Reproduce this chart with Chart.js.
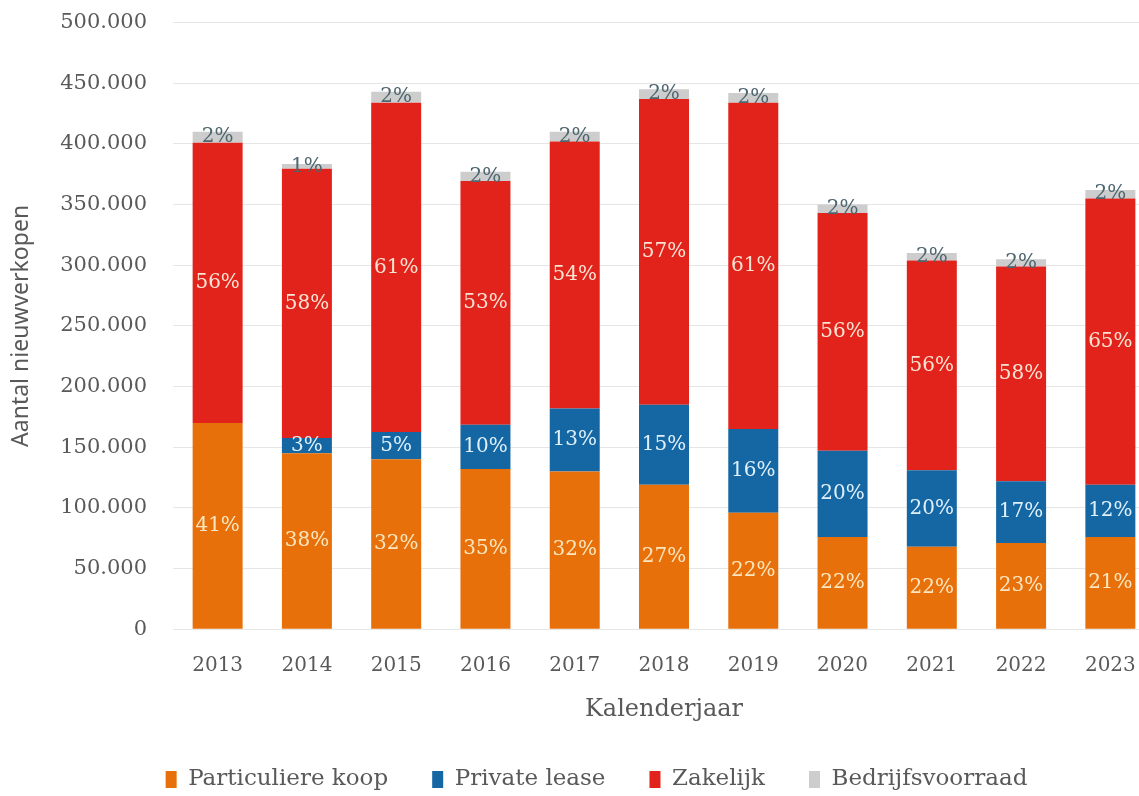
<!DOCTYPE html>
<html>
<head>
<meta charset="utf-8">
<script src="https://cdn.jsdelivr.net/npm/chart.js@4.4.1/dist/chart.umd.min.js"></script>
<style>
  html, body { margin: 0; padding: 0; background: #fff; overflow: hidden; }
  #wrap { width: 1160px; height: 796px; }
</style>
</head>
<body>
<div id="wrap"><canvas id="chart" width="1160" height="796"></canvas></div>
<script>
// nieuwverkopen per kalenderjaar, per segment
const jaren = ['2013', '2014', '2015', '2016', '2017', '2018', '2019', '2020', '2021', '2022', '2023'];
const particuliereKoop = [170000, 145000, 140000, 132000, 130000, 119000, 96000, 76000, 68000, 71000, 76000];
const privateLease = [0, 12500, 22500, 36500, 52000, 66000, 69000, 71000, 63000, 51000, 43000];
const zakelijk = [231000, 222000, 271500, 201000, 220000, 252000, 269000, 196000, 173000, 177000, 236000];
const bedrijfsvoorraad = [9000, 4000, 9000, 7500, 8000, 8000, 8000, 7000, 6000, 6000, 7000];

const yMax = 500000;
const yStep = 50000;

const kleuren = {
  koop: '#e8700a',
  lease: '#1467a3',
  zakelijk: '#e1231b',
  voorraad: '#cdcdcd',
};
const labelkleuren = ['#fbe6bf', '#dff0fb', '#fbe3d3', '#4d6670'];

const textcolor = '#595959';
const serif = '"DejaVu Serif", "Liberation Serif", serif';
const sans = '"Noto Sans", "Open Sans", sans-serif';

const totalen = jaren.map((_, i) =>
  particuliereKoop[i] + privateLease[i] + zakelijk[i] + bedrijfsvoorraad[i]);

// punt als duizendtalscheiding
const formatNL = v => String(v).replace(/\B(?=(\d{3})+(?!\d))/g, '.');

// percentage in het midden van elk segment
const segmentLabels = {
  id: 'segmentLabels',
  afterDatasetsDraw(chart) {
    const ctx = chart.ctx;
    ctx.save();
    ctx.font = `20px ${serif}`;
    ctx.textAlign = 'center';
    ctx.textBaseline = 'middle';
    chart.data.datasets.forEach((ds, i) => {
      const meta = chart.getDatasetMeta(i);
      meta.data.forEach((bar, j) => {
        const v = ds.data[j];
        if (!v) return;
        const pct = Math.round(v / totalen[j] * 100);
        ctx.fillStyle = labelkleuren[i];
        ctx.fillText(pct + '%', bar.x, (bar.y + bar.base) / 2);
      });
    });
    ctx.restore();
  },
};

// legenda iets naar rechts, zoals in het origineel
const legendShift = {
  id: 'legendShift',
  afterLayout(chart) {
    chart.legend.left += 15;
    chart.legend.right += 15;
  },
};

new Chart(document.getElementById('chart'), {
  type: 'bar',
  data: {
    labels: jaren,
    datasets: [
      { label: 'Particuliere koop', data: particuliereKoop, backgroundColor: kleuren.koop },
      { label: 'Private lease', data: privateLease, backgroundColor: kleuren.lease },
      { label: 'Zakelijk', data: zakelijk, backgroundColor: kleuren.zakelijk },
      { label: 'Bedrijfsvoorraad', data: bedrijfsvoorraad, backgroundColor: kleuren.voorraad },
    ],
  },
  options: {
    responsive: false,
    animation: false,
    barPercentage: 0.56,
    categoryPercentage: 1,
    layout: {
      padding: { top: 0, right: 5, bottom: -5, left: 8 },
    },
    scales: {
      x: {
        stacked: true,
        grid: { display: false },
        border: { display: false },
        ticks: {
          color: textcolor,
          font: { family: serif, size: 20 },
          padding: 17,
        },
        title: {
          display: true,
          text: 'Kalenderjaar',
          color: textcolor,
          font: { family: serif, size: 24 },
          padding: { top: 0, bottom: 0 },
        },
      },
      y: {
        stacked: true,
        min: 0,
        max: yMax,
        border: { display: false },
        grid: {
          color: '#e6e6e6',
          drawTicks: true,
          tickLength: 16,
          tickColor: 'rgba(0,0,0,0)',
        },
        ticks: {
          stepSize: yStep,
          color: textcolor,
          font: { family: serif, size: 21 },
          padding: 10,
          callback: v => formatNL(v),
        },
        title: {
          display: true,
          text: 'Aantal nieuwverkopen',
          color: textcolor,
          font: { family: sans, size: 23 },
          padding: { top: 0, bottom: 4 },
        },
        afterFit(scale) {
          scale.width = 165;
        },
      },
    },
    plugins: {
      legend: {
        position: 'bottom',
        labels: {
          color: textcolor,
          font: { family: serif, size: 23 },
          boxWidth: 11,
          boxHeight: 17,
          padding: 44,
        },
      },
      tooltip: { enabled: false },
    },
  },
  plugins: [segmentLabels, legendShift],
});
</script>
</body>
</html>
